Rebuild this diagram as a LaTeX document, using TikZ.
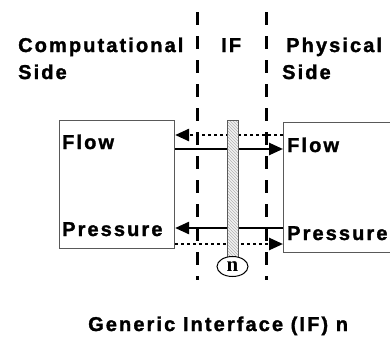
\documentclass[tikz,border=0pt]{standalone}
\usepackage{fontspec}
\usetikzlibrary{arrows.meta,shapes.geometric,patterns}
\setmainfont{Liberation Sans}
\newfontfamily\labfont{Liberation Sans Bold}[LetterSpace=10.5,FakeBold=1.5]
\newfontfamily\serifn{Liberation Serif Bold}
\tikzset{
  lab/.style={font=\labfont\fontsize{20}{23}\selectfont, inner sep=0pt, anchor=base west},
  sidebox/.style={draw=black!65, line width=1.1pt, rectangle, inner sep=0pt, anchor=north west},
  ifline/.style={line width=3pt, dash pattern=on 13pt off 11pt},
  solidarrow/.style={line width=2.5pt, -{Triangle[length=14pt,width=12pt]}},
  dotarrow/.style={line width=2.6pt, dash pattern=on 3pt off 3pt, -{Triangle[length=14pt,width=12pt]}},
  barstyle/.style={draw=black!65, line width=1pt, rectangle, inner sep=0pt, anchor=north west,
    preaction={fill=black!5}, pattern=north west lines, pattern color=black!30},
  nodeell/.style={draw=black, line width=1pt, ellipse, inner sep=0pt, font=\serifn\fontsize{21}{21}\selectfont}
}
\begin{document}
\begin{tikzpicture}[x=1pt,y=-1pt]
\clip (0,0) rectangle (390,341);
% labels
\node[lab] (comp) at (18,52) {Computational};
\node[lab] (cside) at (18,79) {Side};
\node[lab] (iflab) at (221,52) {IF};
\node[lab] (phys) at (286,52) {Physical};
\node[lab] (pside) at (282,79) {Side};
% interface dashed lines
\coordinate (l1top) at (197.5,12);
\coordinate (l1bot) at (197.5,280);
\coordinate (l2top) at (266.5,12);
\coordinate (l2bot) at (266.5,280);
\draw[ifline] (l1top) -- (l1bot);
\draw[ifline] (l2top) -- (l2bot);
% boxes
\node[sidebox, minimum width=115pt, minimum height=128pt] (lbox) at (59,120) {};
\node[sidebox, minimum width=115pt, minimum height=130pt] (rbox) at (283,122) {};
\node[lab] (lflow) at (62,149) {Flow};
\node[lab] (lpress) at (62,236) {Pressure};
\node[lab] (rflow) at (287,152) {Flow};
\node[lab] (rpress) at (287,240) {Pressure};
% arrow levels
\coordinate (ya) at (0,135);
\coordinate (yb) at (0,149);
\coordinate (yc) at (0,228);
\coordinate (yd) at (0,244);
\draw[dotarrow] (rbox.west |- ya) -- (lbox.east |- ya);
\draw[solidarrow] (lbox.east |- yb) -- (rbox.west |- yb);
\draw[solidarrow] (rbox.west |- yc) -- (lbox.east |- yc);
\draw[dotarrow] (lbox.east |- yd) -- (rbox.west |- yd);
% interface bar and its number
\node[barstyle, minimum width=11pt, minimum height=137pt] (bar) at (227,120) {};
\node[nodeell, minimum width=31pt, minimum height=20pt, fill=white] (ifn) at (232.5,266.5) {n};
% caption
\node[lab] (caption) at (88,331) {Generic Interface (IF) n};
\end{tikzpicture}
\end{document}
